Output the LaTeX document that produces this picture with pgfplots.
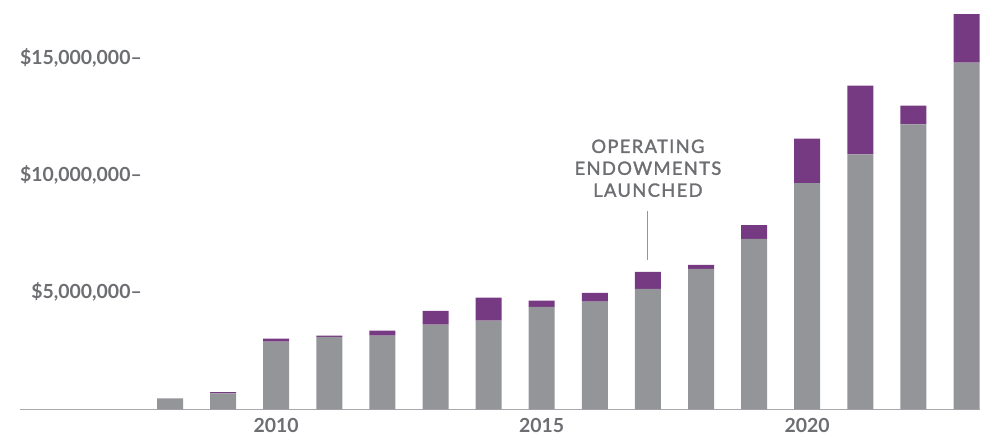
\documentclass[border=0pt]{standalone}
\usepackage{fontspec}
\setmainfont{Lato}
\newfontfamily\annotfont[LetterSpace=7,FakeBold=1.5]{Lato}
\usepackage{pgfplots}
\pgfplotsset{compat=1.18}
\definecolor{bargray}{HTML}{939598}
\definecolor{barpurple}{HTML}{763A83}
\definecolor{txtgray}{HTML}{6D6E71}
\definecolor{axgray}{HTML}{A7A9AC}

% year, base (gray), added (purple), in millions of dollars
\pgfplotstableread{
year base added
2008 0.47 0.00
2009 0.68 0.05
2010 2.89 0.13
2011 3.10 0.05
2012 3.15 0.21
2013 3.62 0.59
2014 3.79 0.98
2015 4.38 0.26
2016 4.60 0.38
2017 5.15 0.72
2018 6.00 0.17
2019 7.28 0.59
2020 9.66 1.91
2021 10.89 2.94
2022 12.17 0.81
2023 14.81 2.08
}\endowdata

\begin{document}
\begin{tikzpicture}
\useasboundingbox (0,0) rectangle (992bp,442bp);
\begin{axis}[
    at={(20bp,32.7bp)}, anchor=south west,
    scale only axis, width=960bp, height=409.3bp,
    xmin=2005.175, xmax=2023.254,
    ymin=0, ymax=17.49,
    ybar stacked, bar width=26bp,
    axis x line*=bottom, axis y line*=left,
    x axis line style={-, draw=axgray, line width=1.2bp},
    y axis line style={draw=none},
    major tick length=0pt,
    xtick={2010,2015,2020},
    xticklabels={2010,2015,2020},
    ytick={5,10,15},
    yticklabels={{\$5,000,000--},{\$10,000,000--},{\$15,000,000--}},
    xticklabel style={font=\bfseries\fontsize{19.5}{19.5}\selectfont, text=txtgray, yshift=-5bp},
    yticklabel style={font=\bfseries\fontsize{19.5}{19.5}\selectfont, text=txtgray, anchor=east, inner sep=0pt, xshift=122bp},
    clip=false,
]
\addplot[fill=bargray, draw=none] table[x=year, y=base] {\endowdata};
\addplot[fill=barpurple, draw=none] table[x=year, y=added] {\endowdata};
\draw[bargray, line width=1bp] (axis cs:2017,6.37) -- (axis cs:2017,8.46);
\node[align=center, font=\annotfont\fontsize{18.5}{22}\selectfont, text=txtgray] at (axis cs:2017,10.3) {OPERATING\\ENDOWMENTS\\LAUNCHED};
\end{axis}
\end{tikzpicture}
\end{document}
